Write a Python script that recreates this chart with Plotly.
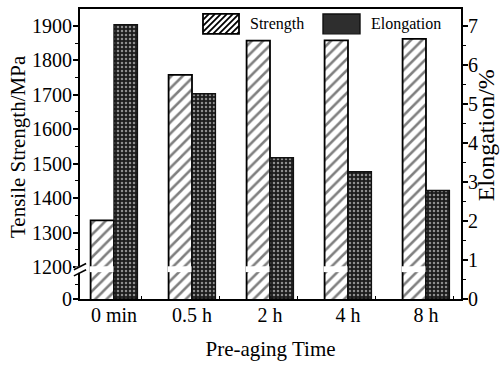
import plotly.graph_objects as go

# ---- data ----
categories = ["0 min", "0.5 h", "2 h", "4 h", "8 h"]
strength_mpa = [1335, 1758, 1857, 1858, 1862]
elongation_pct = [7.03, 5.26, 3.62, 3.26, 2.78]

strength_ticks = [1200, 1300, 1400, 1500, 1600, 1700, 1800, 1900]
strength_minor = [1250, 1350, 1450, 1550, 1650, 1750, 1850]
elong_ticks = [0, 1, 2, 3, 4, 5, 6, 7]

BREAK_AT = 1200          # left axis is broken below this value
AXIS_ZERO = 1107         # position on the broken axis that is labelled "0"
Y1_RANGE = [AXIS_ZERO, 1949]
Y2_RANGE = [0, 7.43]
X_RANGE = [-0.436, 4.449]

FONT = "Liberation Serif"
xs = list(range(len(categories)))

# plot-area geometry (pixels) used for decorations
PL, PR, PT, PB = 80, 461, 7, 299
def px(xp):
    return (xp - PL) / (PR - PL)
def py(yp):
    return (PB - yp) / (PB - PT)

STRENGTH_PATTERN = dict(shape="/", fgcolor="black", bgcolor="white", size=8, solidity=0.32)
ELONG_PATTERN = dict(shape=".", fgcolor="white", bgcolor="#1c1c1c", size=4, solidity=0.3)

fig = go.Figure()
fig.add_trace(go.Bar(
    x=xs, y=strength_mpa, name="Strength", yaxis="y", offsetgroup="s",
    marker=dict(color="white", line=dict(color="black", width=1.8),
                pattern=STRENGTH_PATTERN),
    showlegend=False,
))
fig.add_trace(go.Bar(
    x=xs, y=elongation_pct, name="Elongation", yaxis="y2", offsetgroup="e",
    marker=dict(color="#1c1c1c", line=dict(color="#111", width=1.4),
                pattern=ELONG_PATTERN),
    showlegend=False,
))

shapes = []
# gap in every strength bar at the axis break
bw = 0.3
for i in xs:
    shapes.append(dict(type="rect", xref="x", yref="y",
                       x0=i - bw - 0.012, x1=i - 0.006,
                       y0=BREAK_AT - 15, y1=BREAK_AT + 2,
                       fillcolor="white", line=dict(width=0), layer="above"))
# break on the left axis line
shapes.append(dict(type="rect", xref="paper", yref="y",
                   x0=-0.012, x1=0.012, y0=BREAK_AT - 17, y1=BREAK_AT + 1,
                   fillcolor="white", line=dict(width=0), layer="above"))
for y_off in (1, -17):
    shapes.append(dict(type="line", xref="paper", yref="y",
                       x0=-0.016, x1=0.016,
                       y0=BREAK_AT + y_off - 9, y1=BREAK_AT + y_off + 9,
                       line=dict(color="black", width=1.5), layer="above"))

# ---- hand-drawn legend (large swatches as in the reference) ----
def hatch_box(x0, x1, y0, y1, step):
    segs = []
    h = y1 - y0
    c = x0 - h
    while c < x1:
        ax, ay = c, y1
        bx, by = c + h, y0
        if ax < x0:
            ay = y1 - (x0 - ax); ax = x0
        if bx > x1:
            by = y0 + (bx - x1); bx = x1
        if bx > ax:
            segs.append((ax, ay, bx, by))
        c += step
    return segs

LX0, LX1, LY0, LY1 = 203, 239, 12, 32
shapes.append(dict(type="rect", xref="paper", yref="paper",
                   x0=px(LX0), x1=px(LX1), y0=py(LY1), y1=py(LY0),
                   fillcolor="white", line=dict(color="black", width=1.8)))
path = ""
for ax, ay, bx, by in hatch_box(LX0, LX1, LY0, LY1, 6):
    path += f"M{px(ax)},{py(ay)} L{px(bx)},{py(by)} "
shapes.append(dict(type="path", xref="paper", yref="paper", path=path,
                   line=dict(color="black", width=1.8)))
EX0, EX1 = 323, 360
shapes.append(dict(type="rect", xref="paper", yref="paper",
                   x0=px(EX0), x1=px(EX1), y0=py(LY1), y1=py(LY0),
                   fillcolor="#2e2e2e", line=dict(color="#111", width=1.4)))

fig.update_layout(
    width=502, height=367,
    margin=dict(l=PL, r=502 - PR, t=PT, b=367 - PB),
    paper_bgcolor="white", plot_bgcolor="white",
    barmode="group", bargap=0.4, bargroupgap=0,
    font=dict(family=FONT, color="black", size=20),
    showlegend=False,
    xaxis=dict(range=X_RANGE, tickvals=xs, ticktext=categories,
               ticks="", showgrid=False, zeroline=False,
               showline=True, linecolor="black", linewidth=2, mirror=True,
               ticklabelstandoff=-3,
               minor=dict(tickvals=[i + 0.35 for i in xs], ticks="inside",
                          ticklen=3, tickwidth=1.2, tickcolor="black", showgrid=False),
               tickfont=dict(size=20, family=FONT),
               title=dict(text="Pre-aging Time", font=dict(size=21, family=FONT), standoff=16)),
    yaxis=dict(range=Y1_RANGE,
               tickvals=[AXIS_ZERO] + strength_ticks,
               ticktext=["0"] + [str(v) for v in strength_ticks],
               ticks="outside", ticklen=5, tickwidth=1.5, tickcolor="black",
               ticklabelstandoff=-3,
               minor=dict(tickvals=[1150] + strength_minor, ticks="outside",
                          ticklen=3, tickwidth=1.2, tickcolor="black", showgrid=False),
               showgrid=False, zeroline=False,
               showline=True, linecolor="black", linewidth=2,
               tickfont=dict(size=20, family=FONT)),
    yaxis2=dict(range=Y2_RANGE, overlaying="y", side="right",
                tickvals=elong_ticks, ticks="outside", ticklen=5, tickwidth=1.5,
                tickcolor="black", ticklabelstandoff=-4,
                minor=dict(dtick=0.5, ticks="outside", ticklen=3, tickwidth=1.2,
                           tickcolor="black", showgrid=False),
                showgrid=False, zeroline=False,
                showline=True, linecolor="black", linewidth=2,
                tickfont=dict(size=20, family=FONT)),
    shapes=shapes,
    annotations=[
        dict(text="Tensile Strength/MPa", xref="paper", yref="paper",
             x=px(18), y=py(146), textangle=-90,
             showarrow=False, xanchor="center", yanchor="middle",
             font=dict(size=21, family=FONT)),
        dict(text="Elongation/%", xref="paper", yref="paper",
             x=px(486), y=py(134), textangle=-90,
             showarrow=False, xanchor="center", yanchor="middle",
             font=dict(size=24, family=FONT)),
        dict(text="Strength", xref="paper", yref="paper",
             x=px(248), y=py(22), xanchor="left", yanchor="middle",
             showarrow=False, font=dict(size=16, family=FONT)),
        dict(text="Elongation", xref="paper", yref="paper",
             x=px(369), y=py(22), xanchor="left", yanchor="middle",
             showarrow=False, font=dict(size=16, family=FONT)),
    ],
)

fig.write_html("out.html")
